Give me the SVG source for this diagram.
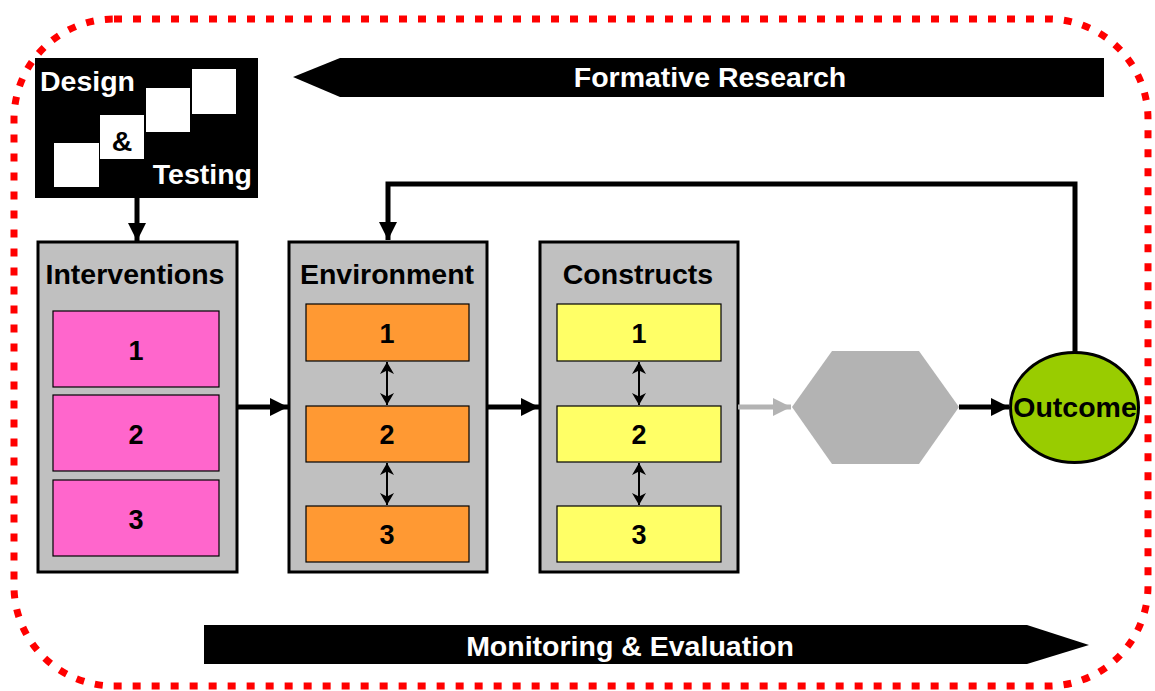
<svg xmlns="http://www.w3.org/2000/svg" width="1155" height="691" viewBox="0 0 1155 691">
<style>
text{font-family:"Liberation Sans",Arial,sans-serif;font-weight:bold;}
.w{fill:#fff;font-size:28.5px;}
.h{fill:#000;font-size:28.5px;text-anchor:middle;}
.n{fill:#000;font-size:27px;text-anchor:middle;}
.panel{fill:#c0c0c0;stroke:#000;stroke-width:3;}
.sub{stroke:#000;stroke-width:1.2;}
.pk{fill:#ff66cc;}.or{fill:#ff9933;}.ye{fill:#ffff66;}
.conn{stroke:#000;stroke-width:5;fill:none;}
.dbl{stroke:#000;stroke-width:2;fill:none;}
</style>
<defs>
<marker id="ah" viewBox="0 0 10 10" refX="10" refY="5" markerWidth="3.8" markerHeight="3.6" markerUnits="strokeWidth" orient="auto"><path d="M0,0L10,5L0,10z" fill="#000"/></marker>
<marker id="ahg" viewBox="0 0 10 10" refX="10" refY="5" markerWidth="3.8" markerHeight="3.6" markerUnits="strokeWidth" orient="auto"><path d="M0,0L10,5L0,10z" fill="#b3b3b3"/></marker>
<marker id="sa" viewBox="0 0 10 10" refX="10" refY="5" markerWidth="12" markerHeight="14" markerUnits="userSpaceOnUse" preserveAspectRatio="none" orient="auto-start-reverse"><path d="M0,0L10,5L0,10L3,5z" fill="#000"/></marker>
</defs>
<rect id="border" x="14" y="19" width="1134" height="667" rx="100" ry="100" fill="none" stroke="#f00" stroke-width="7" stroke-dasharray="8 11"/>
<g id="formative">
<polygon points="293,77 340,58 1104,58 1104,97 340,97" fill="#000"/>
<text class="w" x="710" y="87" text-anchor="middle">Formative Research</text>
</g>
<g id="monitoring">
<polygon points="204,625 1027,625 1089,645 1027,664 204,664" fill="#000"/>
<text class="w" x="630" y="656" text-anchor="middle">Monitoring &amp; Evaluation</text>
</g>
<g id="design">
<rect x="35" y="58" width="223" height="140" fill="#000"/>
<rect x="54" y="143" width="45" height="44" fill="#fff"/>
<rect x="100" y="115" width="44" height="44" fill="#fff"/>
<rect x="146" y="88" width="44" height="44" fill="#fff"/>
<rect x="192" y="69" width="44" height="45" fill="#fff"/>
<text class="w" x="40" y="91">Design</text>
<text class="h" x="122" y="151">&amp;</text>
<text class="w" x="252" y="184" text-anchor="end">Testing</text>
</g>
<g id="interventions">
<rect class="panel" x="38" y="242" width="199" height="330"/>
<text class="h" x="135" y="284">Interventions</text>
<rect class="sub pk" x="53" y="311" width="166" height="76"/>
<rect class="sub pk" x="53" y="395" width="166" height="76"/>
<rect class="sub pk" x="53" y="480" width="166" height="76"/>
<text class="n" x="136" y="360">1</text>
<text class="n" x="136" y="444">2</text>
<text class="n" x="136" y="529">3</text>
</g>
<g id="environment">
<rect class="panel" x="289" y="242" width="198" height="330"/>
<text class="h" x="387" y="284">Environment</text>
<rect class="sub or" x="306" y="304" width="163" height="57"/>
<rect class="sub or" x="306" y="406" width="163" height="56"/>
<rect class="sub or" x="306" y="506" width="163" height="56"/>
<text class="n" x="387" y="343">1</text>
<text class="n" x="387" y="444">2</text>
<text class="n" x="387" y="544">3</text>
</g>
<g id="constructs">
<rect class="panel" x="540" y="242" width="198" height="330"/>
<text class="h" x="638" y="284">Constructs</text>
<rect class="sub ye" x="557" y="304" width="164" height="57"/>
<rect class="sub ye" x="557" y="406" width="164" height="56"/>
<rect class="sub ye" x="557" y="506" width="164" height="56"/>
<text class="n" x="639" y="343">1</text>
<text class="n" x="639" y="444">2</text>
<text class="n" x="639" y="544">3</text>
</g>
<g id="hexagon">
<polygon points="792,407 832,351 919,351 959,407 919,464 832,464" fill="#b3b3b3"/>
</g>
<g id="outcome">
<ellipse cx="1074.5" cy="407.5" rx="64" ry="55" fill="#99cc00" stroke="#000" stroke-width="3"/>
<text class="h" x="1075" y="417">Outcome</text>
</g>
<g id="connectors">
<line class="conn" x1="137" y1="198" x2="137" y2="241" marker-end="url(#ah)"/>
<line class="conn" x1="237" y1="407" x2="288" y2="407" marker-end="url(#ah)"/>
<line class="conn" x1="487" y1="407" x2="539" y2="407" marker-end="url(#ah)"/>
<line x1="738" y1="407" x2="791" y2="407" stroke="#b3b3b3" stroke-width="5" marker-end="url(#ahg)"/>
<line class="conn" x1="959" y1="407" x2="1009" y2="407" marker-end="url(#ah)"/>
<polyline class="conn" points="1075,352 1075,184 388,184 388,240" marker-end="url(#ah)"/>
<line class="dbl" x1="387" y1="362" x2="387" y2="405" marker-start="url(#sa)" marker-end="url(#sa)"/>
<line class="dbl" x1="387" y1="463" x2="387" y2="505" marker-start="url(#sa)" marker-end="url(#sa)"/>
<line class="dbl" x1="639" y1="362" x2="639" y2="405" marker-start="url(#sa)" marker-end="url(#sa)"/>
<line class="dbl" x1="639" y1="463" x2="639" y2="505" marker-start="url(#sa)" marker-end="url(#sa)"/>
</g>
</svg>
